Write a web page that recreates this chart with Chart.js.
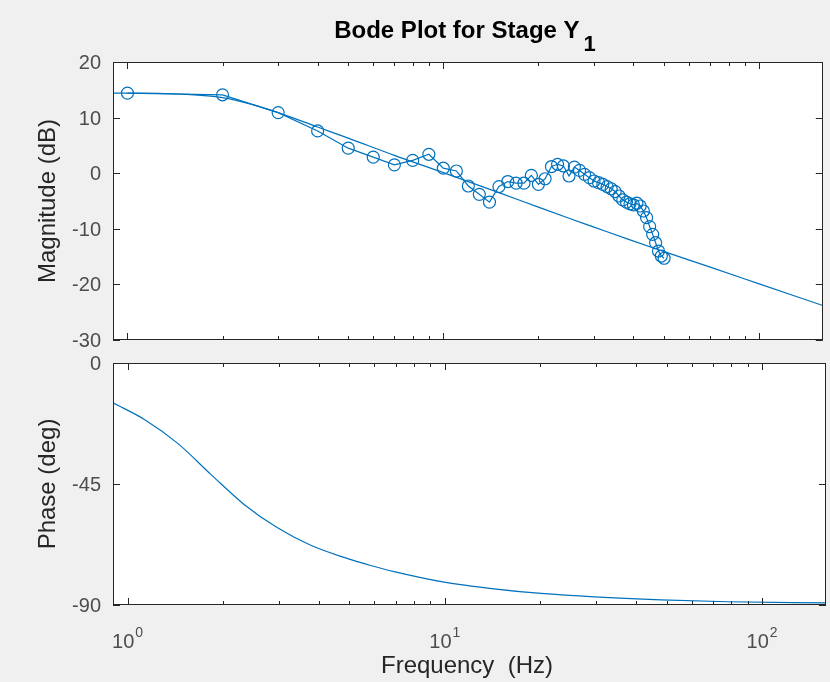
<!DOCTYPE html>
<html>
<head>
<meta charset="utf-8">
<script src="https://cdn.jsdelivr.net/npm/chart.js@4.4.1/dist/chart.umd.min.js"></script>
<style>
  html, body { margin: 0; padding: 0; background: #f0f0f0; }
  #wrap { position: relative; width: 830px; height: 682px; }
  .box { position: absolute; left: 0; width: 830px; }
  #magBox { top: 0; height: 350px; }
  #phaseBox { top: 350px; height: 332px; }
</style>
</head>
<body>
<div id="wrap">
  <div class="box" id="magBox"><canvas id="magChart" width="830" height="350"></canvas></div>
  <div class="box" id="phaseBox"><canvas id="phaseChart" width="830" height="332"></canvas></div>
</div>
<script>
// measured response, one point per Hz
const measFreq = [1, 2, 3, 4, 5, 6, 7, 8, 9, 10,
  11, 12, 13, 14, 15, 16, 17, 18, 19, 20,
  21, 22, 23, 24, 25, 26, 27, 28, 29, 30,
  31, 32, 33, 34, 35, 36, 37, 38, 39, 40,
  41, 42, 43, 44, 45, 46, 47, 48, 49, 50];
const measMag = [14.4, 14.1, 10.9, 7.6, 4.5, 2.9, 1.5, 2.3, 3.4, 0.9,
  0.4, -2.3, -3.8, -5.2, -2.4, -1.5, -1.8, -1.8, -0.4, -2.0,
  -1.0, 1.2, 1.6, 1.3, -0.5, 1.1, 0.5, -0.2, -0.8, -1.4,
  -1.7, -2.0, -2.4, -2.8, -3.3, -4.1, -4.8, -5.2, -5.5, -5.7,
  -5.4, -5.9, -6.8, -8.0, -9.6, -11.0, -12.5, -14.0, -14.9, -15.3];

// fitted model curve
const modelFreq = [0.9, 1, 1.5, 2, 2.5, 3, 4, 5, 7, 10, 15, 20, 25, 30, 39, 50, 70, 100, 159];
const modelMag = [14.4, 14.4, 14.2, 13.6, 12.3, 10.9, 8.3, 6.3, 3.2, 0.1, -3.5, -6.1, -8.1, -9.7, -12.0, -14.1, -16.9, -19.9, -23.8];

const phaseFreq = [0.9, 1.13, 1.44, 1.83, 2.33, 2.97, 3.78, 4.81, 5.84, 6.92, 9.95, 14.3, 20.1, 29.6, 48, 78, 159];
const phaseDeg = [-14.8, -21.0, -29.9, -41.4, -52.6, -61.3, -67.8, -72.3, -75.3, -77.6, -81.5, -84.0, -85.7, -87.0, -88.1, -88.8, -89.2];

// axis ticks
const xTickVals = [1, 10, 100];
const xTickExp = ['0', '1', '2'];
const magTicks = [-30, -20, -10, 0, 10, 20];
const phaseTicks = [-90, -45, 0];

const LINE_BLUE = '#0072BD';
const AXIS_COLOR = '#262626';
const TICK_TEXT = '#4d4d4d';
const FONT = '"Liberation Sans", Arial, Helvetica, sans-serif';

function pts(xs, ys) {
  return xs.map((x, i) => ({ x: x, y: ys[i] }));
}

function seg(ctx, x1, y1, x2, y2) {
  ctx.beginPath();
  ctx.moveTo(x1, y1);
  ctx.lineTo(x2, y2);
  ctx.stroke();
}

// matlab style box, inward ticks and labels
const matlabAxes = {
  id: 'matlabAxes',
  beforeDatasetsDraw(chart) {
    const { ctx, chartArea: a } = chart;
    ctx.save();
    ctx.fillStyle = '#ffffff';
    ctx.fillRect(a.left, a.top, a.right - a.left, a.bottom - a.top);
    ctx.restore();
  },
  afterDraw(chart, args, opts) {
    const { ctx, chartArea: a, scales } = chart;
    const xs = scales.x, ys = scales.y;
    ctx.save();
    ctx.strokeStyle = AXIS_COLOR;
    ctx.lineWidth = 1;
    ctx.strokeRect(Math.round(a.left) + 0.5, Math.round(a.top) + 0.5,
      Math.round(a.right - a.left) - 1, Math.round(a.bottom - a.top) - 1);

    // log x ticks, top and bottom
    for (let d = 1; d <= 100; d *= 10) {
      for (let m = 1; m <= 9; m++) {
        const v = m * d;
        if (v < xs.min || v > xs.max) continue;
        const px = Math.round(xs.getPixelForValue(v)) + 0.5;
        const len = m === 1 ? 7 : 4;
        seg(ctx, px, a.bottom, px, a.bottom - len);
        seg(ctx, px, a.top, px, a.top + len);
      }
    }

    // y ticks, left and right
    ctx.fillStyle = TICK_TEXT;
    ctx.font = '20px ' + FONT;
    ctx.textAlign = 'right';
    ctx.textBaseline = 'middle';
    opts.yTicks.forEach(v => {
      const py = Math.round(ys.getPixelForValue(v)) + 0.5;
      seg(ctx, a.left, py, a.left + 7, py);
      seg(ctx, a.right, py, a.right - 7, py);
      ctx.fillText(String(v), a.left - 12, py + 1);
    });

    // y axis title
    ctx.save();
    ctx.fillStyle = AXIS_COLOR;
    ctx.font = '24px ' + FONT;
    ctx.textAlign = 'center';
    ctx.textBaseline = 'alphabetic';
    ctx.translate(55, (a.top + a.bottom) / 2);
    ctx.rotate(-Math.PI / 2);
    ctx.fillText(opts.yTitle, 0, 0);
    ctx.restore();

    if (opts.title) {
      ctx.fillStyle = '#000000';
      ctx.textAlign = 'left';
      ctx.textBaseline = 'alphabetic';
      ctx.font = 'bold 24px ' + FONT;
      const w1 = ctx.measureText(opts.title).width;
      ctx.font = 'bold 22px ' + FONT;
      const w2 = ctx.measureText(opts.titleSub).width;
      const x0 = 465 - (w1 + w2 + 4) / 2;
      ctx.font = 'bold 24px ' + FONT;
      ctx.fillText(opts.title, x0, 38);
      ctx.font = 'bold 22px ' + FONT;
      ctx.fillText(opts.titleSub, x0 + w1 + 4, 51);
    }

    if (opts.xLabels) {
      ctx.fillStyle = TICK_TEXT;
      ctx.textBaseline = 'alphabetic';
      xTickVals.forEach((v, i) => {
        const px = xs.getPixelForValue(v);
        ctx.font = '20px ' + FONT;
        const wb = ctx.measureText('10').width;
        ctx.font = '14px ' + FONT;
        const we = ctx.measureText(xTickExp[i]).width;
        const x0 = px - (wb + we + 1) / 2;
        ctx.textAlign = 'left';
        ctx.font = '20px ' + FONT;
        ctx.fillText('10', x0, a.bottom + 43);
        ctx.font = '14px ' + FONT;
        ctx.fillText(xTickExp[i], x0 + wb + 1, a.bottom + 32);
      });
      ctx.fillStyle = AXIS_COLOR;
      ctx.font = '24px ' + FONT;
      ctx.textAlign = 'center';
      ctx.fillText(opts.xTitle, 467, a.bottom + 68);
    }
    ctx.restore();
  }
};

new Chart(document.getElementById('magChart').getContext('2d'), {
  type: 'scatter',
  data: {
    datasets: [
      {
        label: 'Model',
        data: pts(modelFreq, modelMag),
        showLine: true,
        borderColor: LINE_BLUE,
        borderWidth: 1.2,
        pointRadius: 0,
        cubicInterpolationMode: 'monotone'
      },
      {
        label: 'Measured',
        data: pts(measFreq, measMag),
        showLine: true,
        borderColor: LINE_BLUE,
        borderWidth: 1.2,
        pointRadius: 6,
        pointBorderWidth: 1.2,
        pointBorderColor: LINE_BLUE,
        pointBackgroundColor: 'rgba(0,0,0,0)',
        backgroundColor: 'rgba(0,0,0,0)'
      }
    ]
  },
  options: {
    responsive: false,
    animation: false,
    layout: { padding: { left: 113, right: 4, top: 62, bottom: 10 } },
    scales: {
      x: { type: 'logarithmic', min: 0.9, max: 159, display: false },
      y: { type: 'linear', min: -30, max: 20, display: false }
    },
    plugins: {
      legend: { display: false },
      tooltip: { enabled: false },
      matlabAxes: {
        yTicks: magTicks,
        yTitle: 'Magnitude (dB)',
        title: 'Bode Plot for Stage Y',
        titleSub: '1',
        xLabels: false
      }
    }
  },
  plugins: [matlabAxes]
});

new Chart(document.getElementById('phaseChart').getContext('2d'), {
  type: 'scatter',
  data: {
    datasets: [
      {
        label: 'Phase',
        data: pts(phaseFreq, phaseDeg),
        showLine: true,
        borderColor: LINE_BLUE,
        borderWidth: 1.2,
        pointRadius: 0,
        cubicInterpolationMode: 'monotone'
      }
    ]
  },
  options: {
    responsive: false,
    animation: false,
    layout: { padding: { left: 113, right: 4, top: 13, bottom: 77 } },
    scales: {
      x: { type: 'logarithmic', min: 0.9, max: 159, display: false },
      y: { type: 'linear', min: -90, max: 0, display: false }
    },
    plugins: {
      legend: { display: false },
      tooltip: { enabled: false },
      matlabAxes: {
        yTicks: phaseTicks,
        yTitle: 'Phase (deg)',
        title: null,
        xLabels: true,
        xTitle: 'Frequency  (Hz)'
      }
    }
  },
  plugins: [matlabAxes]
});
</script>
</body>
</html>
